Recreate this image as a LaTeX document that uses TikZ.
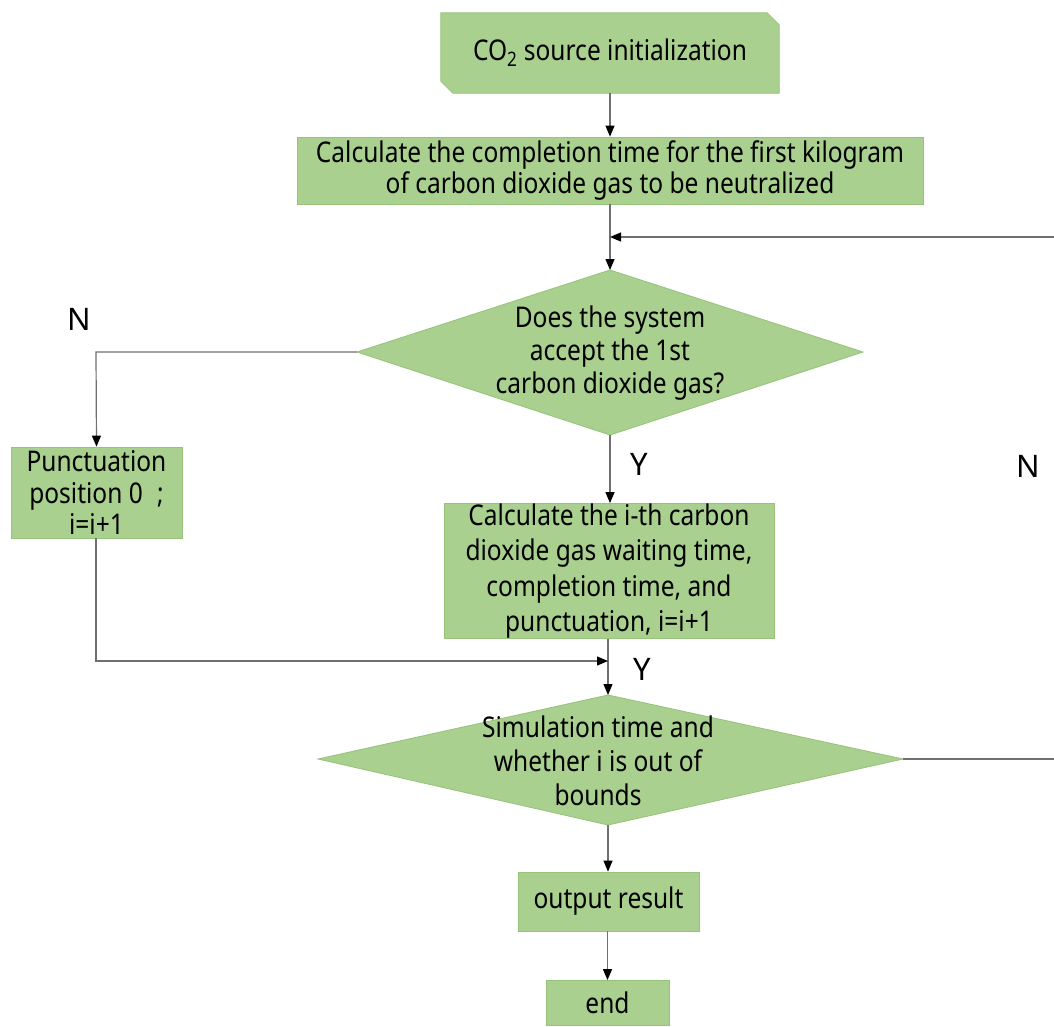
\documentclass[tikz,border=0pt]{standalone}
\usepackage{fontspec}
\setmainfont{Noto Sans}[FakeStretch=0.86]
\newfontfamily\labfont{Noto Sans}
\usetikzlibrary{arrows.meta}
\definecolor{boxfill}{HTML}{A9D08E}
\definecolor{boxline}{HTML}{97C27A}
\definecolor{conn}{HTML}{707070}
\tikzset{
  boxnode/.style={fill=boxfill, draw=boxline, line width=0.8pt, inner sep=0pt, align=center,
    font=\fontsize{28.5}{31.5}\selectfont},
  txtnode/.style={inner sep=0pt, align=center, font=\fontsize{28.5}{33}\selectfont},
  conn/.style={draw=conn, line width=1.2pt, -{Triangle[length=11pt,width=9pt,fill=black,color=black]}},
  plain/.style={draw=conn, line width=1.2pt},
  lab/.style={inner sep=0pt, font=\labfont\fontsize{31}{31}\selectfont},
}
\begin{document}
\begin{tikzpicture}[x=1pt,y=-1pt]
\useasboundingbox (0,0) rectangle (1054,1026);
\clip (0,0) rectangle (1054,1026);
\fill[white] (0,0) rectangle (1054,1026);

% top chamfered box
\node[inner sep=0pt, minimum width=338pt, minimum height=80pt] (init) at (610,53) {};
\fill[boxfill, draw=boxline, line width=0.8pt]
  (init.north west) -- ([xshift=-12pt]init.north east) -- ([yshift=-12pt]init.north east)
  -- (init.south east) -- ([xshift=12pt]init.south west) -- ([yshift=12pt]init.south west) -- cycle;
\node[txtnode] at (init.center) {CO\textsubscript{2} source initialization};

\node[boxnode, minimum width=626pt, minimum height=67pt] (calc1) at (610,170.5)
  {Calculate the completion time for the first kilogram\\of carbon dioxide gas to be neutralized};

% diamond 1
\coordinate (d1t) at (610,270);
\coordinate (d1r) at (863,352);
\coordinate (d1b) at (610,435);
\coordinate (d1l) at (357,352);
\fill[boxfill, draw=boxline, line width=0.8pt] (d1t) -- (d1r) -- (d1b) -- (d1l) -- cycle;
\node[txtnode] (d1) at (610,353) {Does the system\\accept the 1st\\carbon dioxide gas?};

\node[boxnode, minimum width=171pt, minimum height=91pt] (pun) at (96.5,492.5)
  {Punctuation\\position 0\enspace ;\\i=i+1};

\node[boxnode, minimum width=330pt, minimum height=135pt, font=\fontsize{28.5}{35.5}\selectfont] (calc2) at (609,571)
  {Calculate the i-th carbon\\dioxide gas waiting time,\\completion time, and\\punctuation, i=i+1};

% diamond 2
\coordinate (d2t) at (608,695);
\coordinate (d2r) at (903,759);
\coordinate (d2b) at (608,825);
\coordinate (d2l) at (318,759);
\fill[boxfill, draw=boxline, line width=0.8pt] (d2t) -- (d2r) -- (d2b) -- (d2l) -- cycle;
\node[txtnode, font=\fontsize{28.5}{34}\selectfont] (d2) at (598,761) {Simulation time and\\whether i is out of\\bounds};

\node[boxnode, minimum width=181pt, minimum height=59pt] (out) at (608.5,901.5) {output result};
\node[boxnode, minimum width=123pt, minimum height=45pt] (end) at (607.5,1003) {end};

% connector coordinates
\coordinate (m1) at (610,237);
\coordinate (r1) at (1054,237);
\coordinate (m2) at (608,661);
\coordinate (lt) at (96,352);
\coordinate (lb) at (96,661);
\coordinate (r2) at (1054,759);

% connectors
\draw[conn] (init.south) -- (calc1.north);
\draw[conn] (calc1.south) -- (d1t);
\draw[conn] (r1) -- (m1);
\draw[conn] (d1l) -- (lt) -- (pun.north);
\draw[conn] (d1b) -- (d1b |- calc2.north);
\draw[conn] (calc2.south -| d2t) -- (d2t);
\draw[conn] (pun.south -| lb) -- (lb) -- (m2);
\draw[plain] (d2r) -- (r2);
\draw[conn] (d2b) -- (d2b |- out.north);
\draw[conn] (out.south -| end.north) -- (end.north);

% labels
\node[lab] (nl) at (79,319) {N};
\node[lab] (y1) at (639,464) {Y};
\node[lab] (nr) at (1028,466) {N};
\node[lab] (y2) at (642,669) {Y};
\end{tikzpicture}
\end{document}
